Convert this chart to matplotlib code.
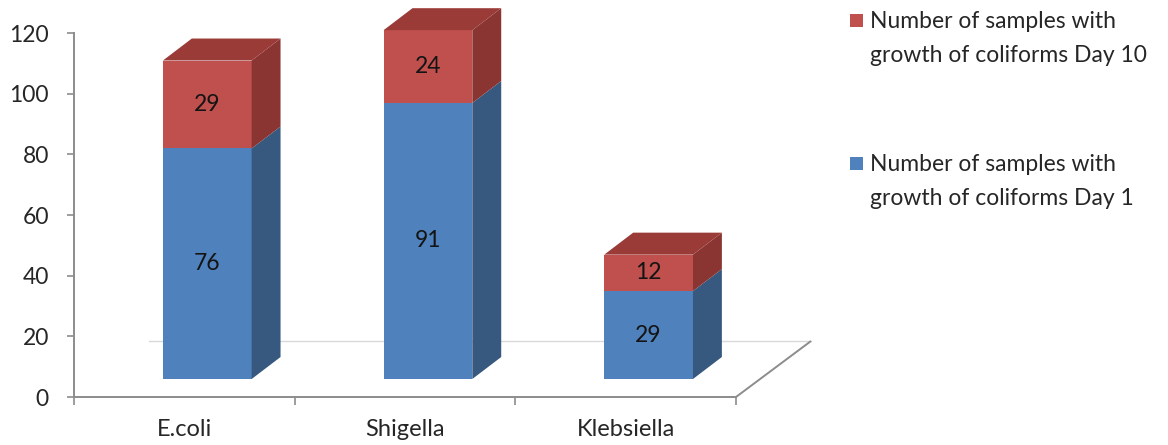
import matplotlib
matplotlib.use("Agg")
import matplotlib.pyplot as plt
from matplotlib.patches import Polygon, Rectangle

# ---- data ----
categories = ["E.coli", "Shigella", "Klebsiella"]
day1 = [76, 91, 29]
day10 = [29, 24, 12]
series_labels = ["Number of samples with\ngrowth of coliforms Day 1",
                 "Number of samples with\ngrowth of coliforms Day 10"]
yticks = [0, 20, 40, 60, 80, 100, 120]

# ---- style ----
plt.rcParams['font.family'] = ['Lato', 'DejaVu Sans']
FS = 16.5
TXT = '#262626'
front_cols = ['#4F81BD', '#C0504D']
side_cols = ['#37597F', '#8A3532']
top_cols = ['#3F6897', '#9A3B38']

W, H = 1168, 445
fig = plt.figure(figsize=(W / 100, H / 100), dpi=100)
ax = fig.add_axes([74 / W, 1 - 397 / H, (736 - 74) / W, (397 - 33) / H])
ax.set_xlim(-0.5, 2.5)
ax.set_ylim(0, 120)

# pseudo-3D projection parameters (in data units)
bar_off, bar_w = -0.097, 0.402
ddx, ddy = 0.131, 7.25
base = 5.93
floor_dx, floor_dy = 0.34, 18.46

# floor
ax.plot([-0.5 + floor_dx, 2.5 + floor_dx], [floor_dy, floor_dy], color='#d9d9d9',
        lw=1.0, clip_on=False, zorder=1)
ax.plot([2.5, 2.5 + floor_dx], [0, floor_dy], color='#8c8c8c', lw=1.4,
        clip_on=False, zorder=1, solid_capstyle='butt')

series = [day1, day10]
for i in range(len(categories)):
    x0 = i + bar_off
    x1 = x0 + bar_w
    bottom = 0
    for s, vals in enumerate(series):
        v = vals[i]
        b = base + bottom
        t = base + bottom + v
        ax.add_patch(Rectangle((x0, b), bar_w, v, facecolor=front_cols[s],
                               edgecolor='none', clip_on=False, zorder=3))
        ax.add_patch(Polygon([(x1, b), (x1 + ddx, b + ddy), (x1 + ddx, t + ddy), (x1, t)],
                             closed=True, facecolor=side_cols[s], edgecolor='none',
                             clip_on=False, zorder=3))
        if s == len(series) - 1:
            ax.add_patch(Polygon([(x0, t), (x0 + ddx, t + ddy), (x1 + ddx, t + ddy), (x1, t)],
                                 closed=True, facecolor=top_cols[s], edgecolor='none',
                                 clip_on=False, zorder=3))
        ax.text((x0 + x1) / 2, (b + t) / 2, str(v), ha='center', va='center',
                fontsize=FS, color='#141414', zorder=5)
        bottom += v

# axes styling
for sp in ['top', 'right']:
    ax.spines[sp].set_visible(False)
for sp in ['left', 'bottom']:
    ax.spines[sp].set_color('#8c8c8c')
    ax.spines[sp].set_linewidth(1.4)
ax.set_yticks(yticks)
ax.set_yticklabels([str(t) for t in yticks])
ax.tick_params(axis='y', direction='out', length=5, width=1.2, color='#8c8c8c',
               labelsize=FS, labelcolor=TXT, pad=13)
ax.set_xticks([-0.5, 0.5, 1.5, 2.5])
ax.set_xticklabels([])
ax.tick_params(axis='x', which='major', direction='out', length=6, width=1.2,
               color='#8c8c8c')
ax.set_xticks(range(len(categories)), minor=True)
ax.set_xticklabels(categories, minor=True)
ax.tick_params(axis='x', which='minor', length=0, labelsize=17, labelcolor=TXT, pad=16)
ax.patch.set_visible(False)

# legend (Excel style, reversed order, marker aligned with first line)
leg_entries = [(front_cols[1], series_labels[1], 28),
               (front_cols[0], series_labels[0], 171)]
for col, lab, base_y in leg_entries:
    fig.patches.append(Rectangle((850 / W, 1 - (base_y - 1) / H), 13 / W, 13 / H,
                                 transform=fig.transFigure, facecolor=col,
                                 edgecolor='none'))
    for k, line in enumerate(lab.split('\n')):
        fig.text(870 / W, 1 - (base_y + 34 * k) / H, line, ha='left', va='baseline',
                 fontsize=FS, color=TXT)

fig.savefig('out.png', dpi=100)
